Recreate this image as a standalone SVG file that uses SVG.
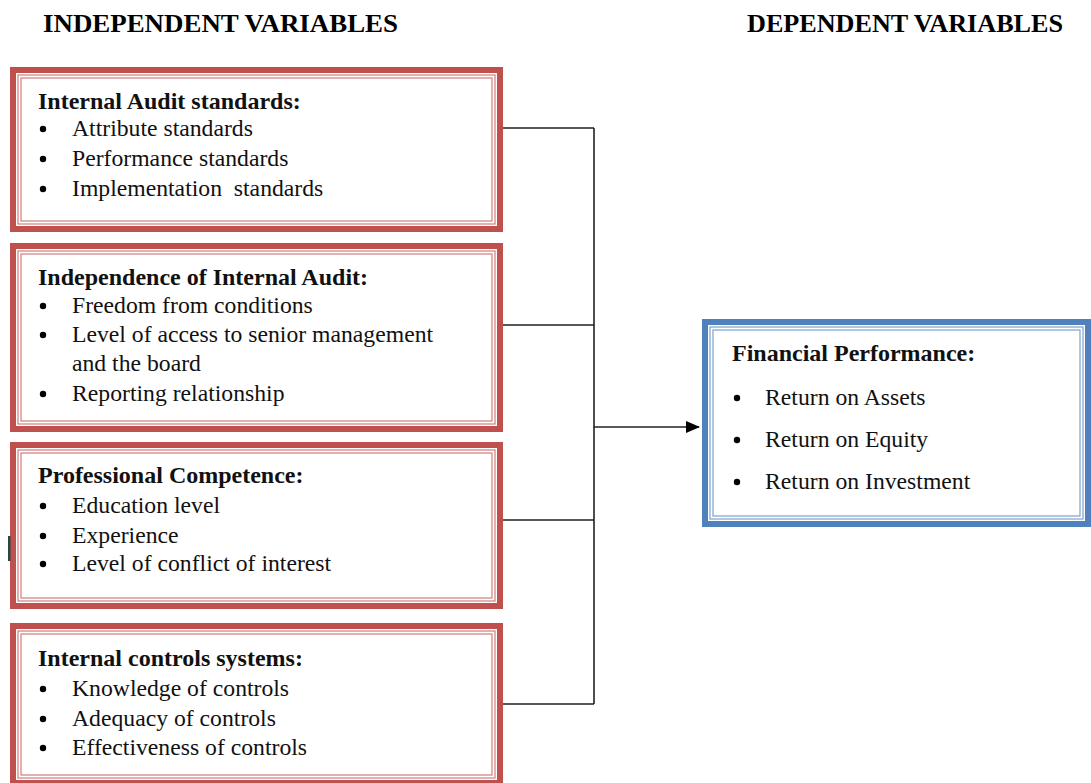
<svg xmlns="http://www.w3.org/2000/svg" width="1091" height="783" viewBox="0 0 1091 783">
<defs>
<style>
.hd{font-family:"Liberation Serif","Times New Roman",serif;font-weight:bold;font-size:26px;fill:#000}
.tt{font-family:"Liberation Serif","Times New Roman",serif;font-weight:bold;font-size:24px;fill:#111}
.it{font-family:"Liberation Serif","Times New Roman",serif;font-size:23.7px;fill:#111}
.bu{fill:#000}
.rO{fill:#fff;stroke:#C0504D;stroke-width:6}
.rI{fill:none;stroke:#C0504D;stroke-width:1.2;opacity:0.75}
.bO{fill:#fff;stroke:#4F81BD;stroke-width:6}
.bI{fill:none;stroke:#4F81BD;stroke-width:1.2;opacity:0.75}
.cn{fill:none;stroke:#222;stroke-width:1.6}
</style>
<marker id="ah" markerWidth="14" markerHeight="12" refX="13" refY="6" orient="auto" markerUnits="userSpaceOnUse">
<path d="M0,0 L14,6 L0,12 Z" fill="#000"/>
</marker>
</defs>
<rect width="1091" height="783" fill="#fff"/>
<text class="hd" x="43" y="32" textLength="355" lengthAdjust="spacingAndGlyphs">INDEPENDENT VARIABLES</text>
<text class="hd" x="747" y="32" textLength="316" lengthAdjust="spacingAndGlyphs">DEPENDENT VARIABLES</text>

<g id="connectors">
<path class="cn" d="M503,128 H594 M503,325 H594 M503,520 H594 M503,704 H594 M594,128 V704"/>
<path class="cn" d="M594,427 H699" marker-end="url(#ah)"/>
</g>

<g id="n1">
<rect class="rO" x="13" y="70" width="487" height="159"/>
<rect class="rI" x="18" y="75" width="477" height="149"/>
<rect class="rI" x="21" y="78" width="471" height="143"/>
<text class="tt" x="38" y="109">Internal Audit standards:</text>
<circle class="bu" cx="43" cy="129" r="3.2"/><text class="it" x="72" y="136">Attribute standards</text>
<circle class="bu" cx="43" cy="159" r="3.2"/><text class="it" x="72" y="166">Performance standards</text>
<circle class="bu" cx="43" cy="189" r="3.2"/><text class="it" x="72" y="196" xml:space="preserve">Implementation  standards</text>
</g>

<g id="n2">
<rect class="rO" x="13" y="246" width="487" height="183"/>
<rect class="rI" x="18" y="251" width="477" height="173"/>
<rect class="rI" x="21" y="254" width="471" height="167"/>
<text class="tt" x="38" y="285">Independence of Internal Audit:</text>
<circle class="bu" cx="43" cy="306" r="3.2"/><text class="it" x="72" y="313">Freedom from conditions</text>
<circle class="bu" cx="43" cy="335" r="3.2"/><text class="it" x="72" y="342">Level of access to senior management</text>
<text class="it" x="72" y="371">and the board</text>
<circle class="bu" cx="43" cy="394" r="3.2"/><text class="it" x="72" y="401">Reporting relationship</text>
</g>

<g id="n3">
<rect class="rO" x="13" y="445" width="487" height="161"/>
<rect class="rI" x="18" y="450" width="477" height="151"/>
<rect class="rI" x="21" y="453" width="471" height="145"/>
<text class="tt" x="38" y="483">Professional Competence:</text>
<circle class="bu" cx="43" cy="506" r="3.2"/><text class="it" x="72" y="513">Education level</text>
<circle class="bu" cx="43" cy="536" r="3.2"/><text class="it" x="72" y="543">Experience</text>
<circle class="bu" cx="43" cy="564" r="3.2"/><text class="it" x="72" y="571">Level of conflict of interest</text>
</g>
<rect x="8" y="536" width="2.5" height="25" fill="#2a4545"/>

<g id="n4">
<rect class="rO" x="13" y="626" width="487" height="157"/>
<rect class="rI" x="18" y="631" width="477" height="147"/>
<rect class="rI" x="21" y="634" width="471" height="141"/>
<text class="tt" x="38" y="666">Internal controls systems:</text>
<circle class="bu" cx="43" cy="689" r="3.2"/><text class="it" x="72" y="696">Knowledge of controls</text>
<circle class="bu" cx="43" cy="719" r="3.2"/><text class="it" x="72" y="726">Adequacy of controls</text>
<circle class="bu" cx="43" cy="748" r="3.2"/><text class="it" x="72" y="755">Effectiveness of controls</text>
</g>

<g id="n5">
<rect class="bO" x="705" y="322" width="383" height="202"/>
<rect class="bI" x="710" y="327" width="373" height="192"/>
<rect class="bI" x="713" y="330" width="367" height="186"/>
<text class="tt" x="732" y="361">Financial Performance:</text>
<circle class="bu" cx="737" cy="398" r="3.2"/><text class="it" x="765" y="405">Return on Assets</text>
<circle class="bu" cx="737" cy="440" r="3.2"/><text class="it" x="765" y="447">Return on Equity</text>
<circle class="bu" cx="737" cy="482" r="3.2"/><text class="it" x="765" y="489">Return on Investment</text>
</g>
</svg>
